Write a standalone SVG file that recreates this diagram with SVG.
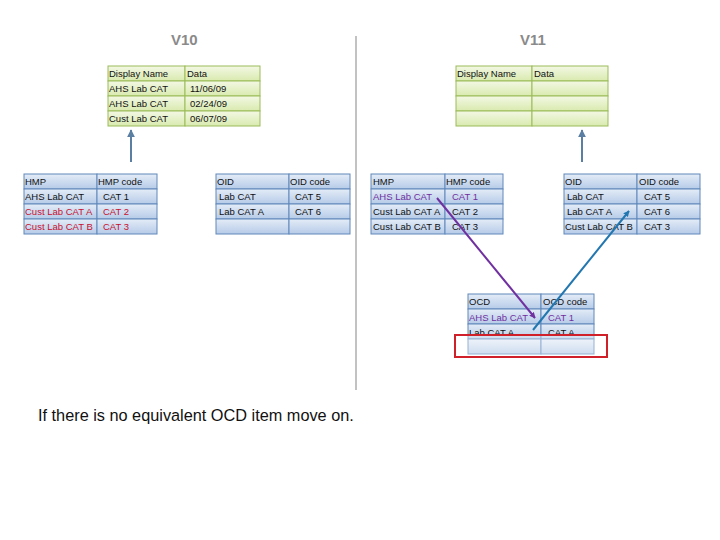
<svg xmlns="http://www.w3.org/2000/svg" width="720" height="540" viewBox="0 0 720 540">
<defs>
<linearGradient id="gG" x1="0" y1="0" x2="0" y2="1"><stop offset="0" stop-color="#f3f8e4"/><stop offset="1" stop-color="#d9eaaf"/></linearGradient>
<linearGradient id="gB" x1="0" y1="0" x2="0" y2="1"><stop offset="0" stop-color="#e4ecf7"/><stop offset="1" stop-color="#b6cbe8"/></linearGradient>
<marker id="aS" viewBox="0 0 10 10" refX="9" refY="5" markerWidth="4" markerHeight="4" orient="auto"><path d="M0,0 L10,5 L0,10 z" fill="#5b7fa3"/></marker>
<marker id="aP" viewBox="0 0 10 10" refX="9" refY="5" markerWidth="3" markerHeight="3" orient="auto"><path d="M0,0 L10,5 L0,10 z" fill="#7030a0"/></marker>
<marker id="aB" viewBox="0 0 10 10" refX="9" refY="5" markerWidth="3" markerHeight="3" orient="auto"><path d="M0,0 L10,5 L0,10 z" fill="#2277b0"/></marker>
</defs>
<style>
text{font-family:"Liberation Sans",Arial,sans-serif;font-size:9.5px;fill:#111}
.g rect{fill:url(#gG);stroke:#9bbb59;stroke-width:1}
.b rect{fill:url(#gB);stroke:#6088bb;stroke-width:1}
.red{fill:#c8102e}
.pur{fill:#7030a0}
.ver{font-size:15px;font-weight:bold;fill:#8a8a8a}
.note{font-size:16.3px;fill:#111}
</style>
<rect width="720" height="540" fill="#fff"/>
<text class="ver" x="171" y="45">V10</text>
<text class="ver" x="520" y="45">V11</text>
<line x1="356" y1="36" x2="356" y2="390" stroke="#999" stroke-width="1.2"/>

<g id="v10-display" class="g">
<rect x="108" y="66" width="77" height="15"/><rect x="185" y="66" width="75" height="15"/>
<rect x="108" y="81" width="77" height="15"/><rect x="185" y="81" width="75" height="15"/>
<rect x="108" y="96" width="77" height="15"/><rect x="185" y="96" width="75" height="15"/>
<rect x="108" y="111" width="77" height="15"/><rect x="185" y="111" width="75" height="15"/>
<text x="109" y="77">Display Name</text><text x="187" y="77">Data</text>
<text x="109" y="92">AHS Lab CAT</text><text x="190" y="92">11/06/09</text>
<text x="109" y="107">AHS Lab CAT</text><text x="190" y="107">02/24/09</text>
<text x="109" y="122">Cust Lab CAT</text><text x="190" y="122">06/07/09</text>
</g>

<g id="v10-hmp" class="b">
<rect x="24" y="174" width="73" height="15"/><rect x="97" y="174" width="60" height="15"/>
<rect x="24" y="189" width="73" height="15"/><rect x="97" y="189" width="60" height="15"/>
<rect x="24" y="204" width="73" height="15"/><rect x="97" y="204" width="60" height="15"/>
<rect x="24" y="219" width="73" height="15"/><rect x="97" y="219" width="60" height="15"/>
<text x="25" y="185">HMP</text><text x="98" y="185">HMP code</text>
<text x="25" y="200">AHS Lab CAT</text><text x="103" y="200">CAT 1</text>
<text class="red" x="25" y="215">Cust Lab CAT A</text><text class="red" x="103" y="215">CAT 2</text>
<text class="red" x="25" y="230">Cust Lab CAT B</text><text class="red" x="103" y="230">CAT 3</text>
</g>

<g id="v10-oid" class="b">
<rect x="216" y="174" width="73" height="15"/><rect x="289" y="174" width="61" height="15"/>
<rect x="216" y="189" width="73" height="15"/><rect x="289" y="189" width="61" height="15"/>
<rect x="216" y="204" width="73" height="15"/><rect x="289" y="204" width="61" height="15"/>
<rect x="216" y="219" width="73" height="15"/><rect x="289" y="219" width="61" height="15"/>
<text x="217" y="185">OID</text><text x="290" y="185">OID code</text>
<text x="219" y="200">Lab CAT</text><text x="295" y="200">CAT 5</text>
<text x="219" y="215">Lab CAT A</text><text x="295" y="215">CAT 6</text>
</g>

<g id="v11-display" class="g">
<rect x="456" y="66" width="76" height="15"/><rect x="532" y="66" width="76" height="15"/>
<rect x="456" y="81" width="76" height="15"/><rect x="532" y="81" width="76" height="15"/>
<rect x="456" y="96" width="76" height="15"/><rect x="532" y="96" width="76" height="15"/>
<rect x="456" y="111" width="76" height="15"/><rect x="532" y="111" width="76" height="15"/>
<text x="457" y="77">Display Name</text><text x="534" y="77">Data</text>
</g>

<g id="v11-hmp" class="b">
<rect x="371" y="174" width="74" height="15"/><rect x="445" y="174" width="58" height="15"/>
<rect x="371" y="189" width="74" height="15"/><rect x="445" y="189" width="58" height="15"/>
<rect x="371" y="204" width="74" height="15"/><rect x="445" y="204" width="58" height="15"/>
<rect x="371" y="219" width="74" height="15"/><rect x="445" y="219" width="58" height="15"/>
<text x="373" y="185">HMP</text><text x="446" y="185">HMP code</text>
<text class="pur" x="373" y="200">AHS Lab CAT</text><text class="pur" x="452" y="200">CAT 1</text>
<text x="373" y="215">Cust Lab CAT A</text><text x="452" y="215">CAT 2</text>
<text x="373" y="230">Cust Lab CAT B</text><text x="452" y="230">CAT 3</text>
</g>

<g id="v11-oid" class="b">
<rect x="564" y="174" width="73" height="15"/><rect x="637" y="174" width="63" height="15"/>
<rect x="564" y="189" width="73" height="15"/><rect x="637" y="189" width="63" height="15"/>
<rect x="564" y="204" width="73" height="15"/><rect x="637" y="204" width="63" height="15"/>
<rect x="564" y="219" width="73" height="15"/><rect x="637" y="219" width="63" height="15"/>
<text x="565" y="185">OID</text><text x="639" y="185">OID code</text>
<text x="567" y="200">Lab CAT</text><text x="644" y="200">CAT 5</text>
<text x="567" y="215">Lab CAT A</text><text x="644" y="215">CAT 6</text>
<text x="565" y="230">Cust Lab CAT B</text><text x="644" y="230">CAT 3</text>
</g>

<g id="v11-ocd" class="b">
<rect x="468" y="294" width="73" height="15"/><rect x="541" y="294" width="53" height="15"/>
<rect x="468" y="309" width="73" height="15"/><rect x="541" y="309" width="53" height="15"/>
<rect x="468" y="324" width="73" height="15"/><rect x="541" y="324" width="53" height="15"/>
<rect x="468" y="339" width="73" height="15"/><rect x="541" y="339" width="53" height="15"/>
<text x="469" y="305">OCD</text><text x="543" y="305">OCD code</text>
<text class="pur" x="469" y="321">AHS Lab CAT</text><text class="pur" x="548" y="321">CAT 1</text>
<text x="469" y="336">Lab CAT A</text><text x="548" y="336">CAT A</text>
</g>

<g id="highlight">
<rect x="455" y="335" width="152" height="22" fill="#fff" fill-opacity="0.35" stroke="#d0202a" stroke-width="2"/>
</g>

<g id="connectors" fill="none" stroke-width="2">
<line x1="131" y1="162" x2="131" y2="130" stroke="#5b7fa3" marker-end="url(#aS)"/>
<line x1="582" y1="162" x2="582" y2="130" stroke="#5b7fa3" marker-end="url(#aS)"/>
<line x1="437" y1="198" x2="535" y2="318" stroke="#7030a0" marker-end="url(#aP)"/>
<line x1="533" y1="330" x2="629" y2="211" stroke="#2277b0" marker-end="url(#aB)"/>
</g>

<text class="note" x="38" y="421">If there is no equivalent OCD item move on.</text>
</svg>
